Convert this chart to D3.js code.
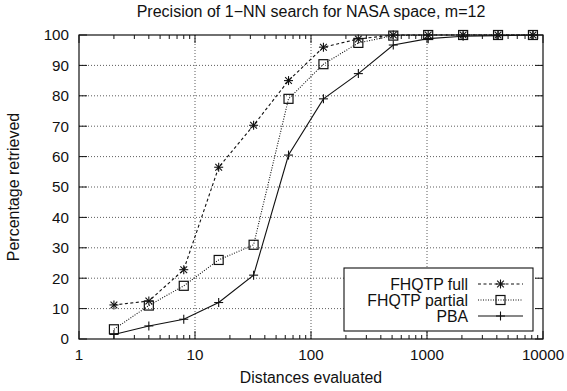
<!DOCTYPE html>
<html>
<head>
<meta charset="utf-8">
<script src="https://cdn.jsdelivr.net/npm/d3@7"></script>
<style>
  body { margin: 0; background: #fff; }
  text { font-family: "Liberation Sans", Arial, sans-serif; fill: #111; }
</style>
</head>
<body>
<div id="chart"></div>
<script>
// data
const distances = [2, 4, 8, 16, 32, 64, 128, 256, 512, 1024, 2048, 4096, 8192];
const fhqtpFull = [11.2, 12.5, 22.8, 56.5, 70.3, 85, 96, 98.7, 100, 100, 100, 100, 100];
const fhqtpPartial = [3.2, 11, 17.5, 26, 31, 79, 90.4, 97.4, 99.8, 100, 100, 100, 100];
const pba = [1.5, 4.3, 6.5, 12, 21, 60.5, 79, 87.3, 96.7, 98.8, 99.6, 99.8, 100];
const xTicks = [1, 10, 100, 1000, 10000];
const yTicks = [0, 10, 20, 30, 40, 50, 60, 70, 80, 90, 100];

const series = [
  { name: "FHQTP full", values: fhqtpFull, dash: "3,2.5", marker: "star" },
  { name: "FHQTP partial", values: fhqtpPartial, dash: "1,1.5", marker: "square" },
  { name: "PBA", values: pba, dash: null, marker: "plus" }
];

const W = 567, H = 391;
const margin = { top: 35, right: 24, bottom: 52, left: 79 };
const width = W - margin.left - margin.right;
const height = H - margin.top - margin.bottom;

const svg = d3.select("#chart").append("svg")
  .attr("width", W)
  .attr("height", H);

const g = svg.append("g")
  .attr("transform", "translate(" + margin.left + "," + margin.top + ")");

const x = d3.scaleLog().domain([1, 10000]).range([0, width]);
const y = d3.scaleLinear().domain([0, 100]).range([height, 0]);

// grid (dotted)
g.append("g").selectAll("line")
  .data(xTicks.slice(1, -1))
  .join("line")
  .attr("x1", d => x(d)).attr("x2", d => x(d))
  .attr("y1", 0).attr("y2", height)
  .attr("stroke", "#333").attr("stroke-width", 0.8)
  .attr("stroke-dasharray", "1,2");

g.append("g").selectAll("line")
  .data(yTicks.slice(1, -1))
  .join("line")
  .attr("x1", 0).attr("x2", width)
  .attr("y1", d => y(d)).attr("y2", d => y(d))
  .attr("stroke", "#333").attr("stroke-width", 0.8)
  .attr("stroke-dasharray", "1,2");

// minor log ticks, inward, bottom and top
const minor = [];
for (let p = 1; p < 10000; p *= 10) {
  for (let k = 2; k <= 9; k++) minor.push(p * k);
}
const tickG = g.append("g").attr("stroke", "#111").attr("stroke-width", 1);
minor.forEach(function(v) {
  tickG.append("line").attr("x1", x(v)).attr("x2", x(v)).attr("y1", height).attr("y2", height - 4);
  tickG.append("line").attr("x1", x(v)).attr("x2", x(v)).attr("y1", 0).attr("y2", 4);
});
xTicks.forEach(function(v) {
  tickG.append("line").attr("x1", x(v)).attr("x2", x(v)).attr("y1", height).attr("y2", height - 8);
  tickG.append("line").attr("x1", x(v)).attr("x2", x(v)).attr("y1", 0).attr("y2", 8);
});
yTicks.forEach(function(v) {
  tickG.append("line").attr("x1", 0).attr("x2", 8).attr("y1", y(v)).attr("y2", y(v));
  tickG.append("line").attr("x1", width).attr("x2", width - 8).attr("y1", y(v)).attr("y2", y(v));
});

// frame
g.append("rect")
  .attr("width", width).attr("height", height)
  .attr("fill", "none").attr("stroke", "#111").attr("stroke-width", 1.2);

// tick labels
g.append("g").selectAll("text")
  .data(xTicks)
  .join("text")
  .attr("x", d => x(d))
  .attr("y", height + 21)
  .attr("text-anchor", "middle")
  .style("font-size", "15.2px")
  .text(d => d);

g.append("g").selectAll("text")
  .data(yTicks)
  .join("text")
  .attr("x", -10)
  .attr("y", d => y(d))
  .attr("dy", "0.36em")
  .attr("text-anchor", "end")
  .style("font-size", "15.2px")
  .text(d => d);

// titles
svg.append("text")
  .attr("x", margin.left + width / 2)
  .attr("y", 17)
  .attr("text-anchor", "middle")
  .style("font-size", "16px")
  .text("Precision of 1\u2212NN search for NASA space, m=12");

svg.append("text")
  .attr("x", margin.left + width / 2)
  .attr("y", 383)
  .attr("text-anchor", "middle")
  .style("font-size", "15.8px")
  .text("Distances evaluated");

svg.append("text")
  .attr("transform", "translate(19," + (margin.top + height / 2) + ") rotate(-90)")
  .attr("text-anchor", "middle")
  .style("font-size", "16px")
  .text("Percentage retrieved");

// markers
function drawMarker(sel, type, cx, cy) {
  const s = 4.5;
  if (type === "star") {
    const m = sel.append("g").attr("stroke", "#111").attr("stroke-width", 1.1);
    m.append("line").attr("x1", cx - s).attr("x2", cx + s).attr("y1", cy).attr("y2", cy);
    m.append("line").attr("x1", cx).attr("x2", cx).attr("y1", cy - s).attr("y2", cy + s);
    m.append("line").attr("x1", cx - s * 0.75).attr("x2", cx + s * 0.75).attr("y1", cy - s * 0.75).attr("y2", cy + s * 0.75);
    m.append("line").attr("x1", cx - s * 0.75).attr("x2", cx + s * 0.75).attr("y1", cy + s * 0.75).attr("y2", cy - s * 0.75);
  } else if (type === "square") {
    sel.append("rect")
      .attr("x", cx - s).attr("y", cy - s)
      .attr("width", 2 * s).attr("height", 2 * s)
      .attr("fill", "none").attr("stroke", "#111").attr("stroke-width", 1.2);
  } else {
    const m = sel.append("g").attr("stroke", "#111").attr("stroke-width", 1.1);
    m.append("line").attr("x1", cx - s).attr("x2", cx + s).attr("y1", cy).attr("y2", cy);
    m.append("line").attr("x1", cx).attr("x2", cx).attr("y1", cy - s).attr("y2", cy + s);
  }
}

// lines
const line = d3.line()
  .x(d => x(d[0]))
  .y(d => y(d[1]));

series.forEach(function(s) {
  const pts = distances.map((d, i) => [d, s.values[i]]);
  const path = g.append("path")
    .datum(pts)
    .attr("d", line)
    .attr("fill", "none")
    .attr("stroke", "#111")
    .attr("stroke-width", 1.1);
  if (s.dash) path.attr("stroke-dasharray", s.dash);
  const mg = g.append("g");
  pts.forEach(p => drawMarker(mg, s.marker, x(p[0]), y(p[1])));
});

// legend
const lg = svg.append("g");
lg.append("rect")
  .attr("x", 344).attr("y", 268)
  .attr("width", 189).attr("height", 63)
  .attr("fill", "#fff").attr("stroke", "#111").attr("stroke-width", 1.1);

series.forEach(function(s, i) {
  const ly = 284 + i * 16;
  lg.append("text")
    .attr("x", 468)
    .attr("y", ly)
    .attr("dy", "0.36em")
    .attr("text-anchor", "end")
    .style("font-size", "15.8px")
    .text(s.name);
  const l = lg.append("line")
    .attr("x1", 478).attr("x2", 523)
    .attr("y1", ly).attr("y2", ly)
    .attr("stroke", "#111").attr("stroke-width", 1.1);
  if (s.dash) l.attr("stroke-dasharray", s.dash);
  drawMarker(lg, s.marker, 500.5, ly);
});
</script>
</body>
</html>
